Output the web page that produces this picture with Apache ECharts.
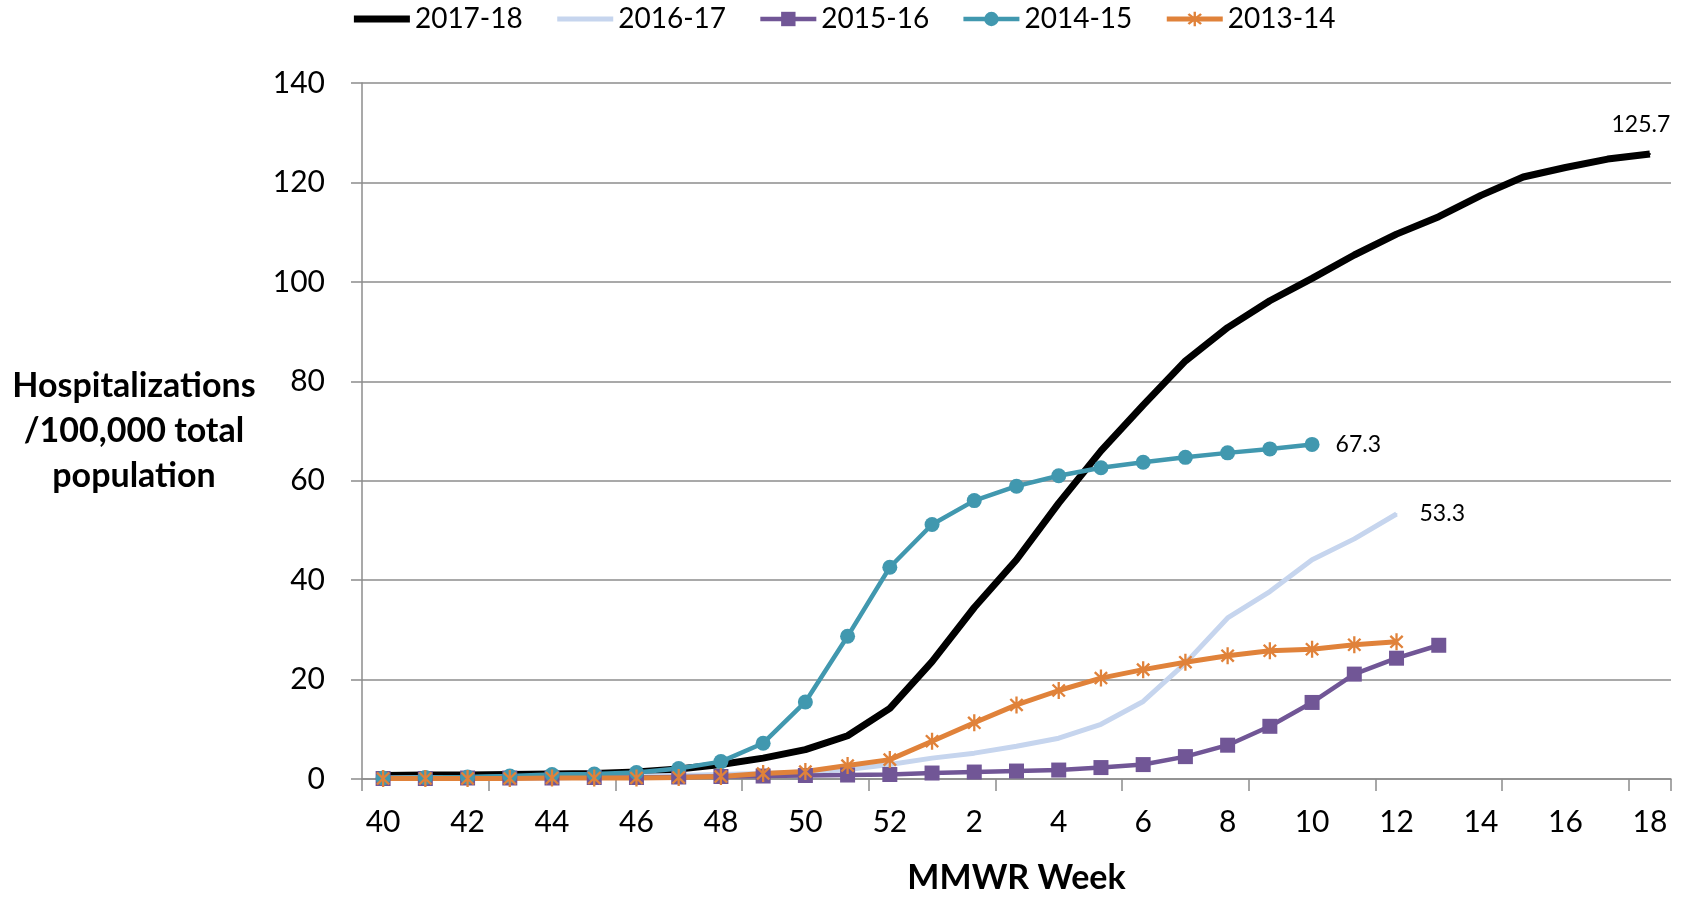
<!DOCTYPE html>
<html><head><meta charset="utf-8">
<script src="https://cdn.jsdelivr.net/npm/echarts@6/dist/echarts.min.js"></script>
<style>html,body{margin:0;padding:0;background:#fff}#c{width:1686px;height:900px}</style>
</head><body><div id="c"></div>
<script>
const weeks = ['40','41','42','43','44','45','46','47','48','49','50','51','52',
  '1','2','3','4','5','6','7','8','9','10','11','12','13','14','15','16','17','18'];
const yTicks = [0, 20, 40, 60, 80, 100, 120, 140];
const seriesNames = ['2017-18', '2016-17', '2015-16', '2014-15', '2013-14'];
const s1718 = [0.7,0.8,0.8,0.9,1.0,1.1,1.4,2.0,2.9,4.2,5.9,8.7,14.2,23.6,34.5,44.1,55.5,66.0,75.2,84.1,90.8,96.2,100.7,105.4,109.6,113.1,117.4,121.1,123.0,124.7,125.7];
const s1617 = [0.2,0.3,0.3,0.4,0.4,0.5,0.6,0.7,0.9,1.1,1.4,1.9,2.9,4.2,5.2,6.6,8.2,11.0,15.6,23.3,32.4,37.7,44.1,48.3,53.3];
const s1516 = [0.1,0.1,0.2,0.2,0.2,0.3,0.3,0.4,0.5,0.6,0.7,0.8,0.9,1.2,1.4,1.6,1.8,2.3,2.9,4.5,6.8,10.6,15.4,21.1,24.3,26.9];
const s1415 = [0.2,0.3,0.4,0.6,0.9,1.0,1.3,2.1,3.5,7.2,15.5,28.7,42.6,51.2,56.0,58.9,61.0,62.6,63.7,64.7,65.6,66.4,67.3];
const s1314 = [0.1,0.1,0.1,0.1,0.2,0.2,0.2,0.3,0.5,1.1,1.5,2.7,3.9,7.6,11.3,14.9,17.8,20.3,22.0,23.5,24.8,25.8,26.1,27.0,27.6];

const FONT = 'Lato';
const GRAY = '#8c8c8c';
const STAR = 'path://M-1.3,-9.9L1.3,-9.9L1.3,9.9L-1.3,9.9Z M-6.0,-7.9L7.9,6.0L6.0,7.9L-7.9,-6.0Z M6.0,-7.9L7.9,-6.0L-6.0,7.9L-7.9,6.0Z';
const labelBase = {show: true, fontSize: 23, fontFamily: FONT, color: '#000', formatter: '{c}'};

function withEndLabel(arr, label) {
  return arr.map((v, i) => i === arr.length - 1 ? {value: v, label: Object.assign({}, labelBase, label)} : v);
}

const chart = echarts.init(document.getElementById('c'));
chart.setOption({
  animation: false,
  backgroundColor: '#fff',
  textStyle: {fontFamily: FONT},
  legend: {
    top: 0, left: 'center', itemWidth: 56, itemHeight: 18, itemGap: 32,
    lineStyle: {width: 'inherit'},
    textStyle: {fontSize: 28, fontFamily: FONT, color: '#000'},
    data: [
      {name: seriesNames[0], itemStyle: {opacity: 0}},
      {name: seriesNames[1], itemStyle: {opacity: 0}},
      seriesNames[2], seriesNames[3], seriesNames[4]
    ]
  },
  grid: {left: 362, right: 15, top: 83, bottom: 121, containLabel: false, outerBoundsMode: 'none'},
  xAxis: {
    type: 'category', data: weeks, boundaryGap: true,
    axisLine: {show: true, lineStyle: {color: GRAY, width: 1.5}},
    axisTick: {show: true, interval: 2, length: 12, lineStyle: {color: GRAY, width: 1.5}},
    axisLabel: {interval: 1, fontSize: 30, fontFamily: FONT, color: '#000', margin: 28},
    splitLine: {show: false},
    name: 'MMWR Week', nameLocation: 'middle', nameGap: 82,
    nameTextStyle: {fontSize: 34, fontWeight: 'bold', fontFamily: FONT, color: '#000'}
  },
  yAxis: {
    type: 'value', min: yTicks[0], max: yTicks[yTicks.length - 1], interval: yTicks[1] - yTicks[0],
    axisLine: {show: true, lineStyle: {color: GRAY, width: 1.5}},
    axisTick: {show: true, length: 11, lineStyle: {color: GRAY, width: 1.5}},
    axisLabel: {fontSize: 30, fontFamily: FONT, color: '#000', margin: 37},
    splitLine: {show: true, lineStyle: {color: GRAY, width: 1.5}},
    name: 'Hospitalizations\n/100,000 total\npopulation', nameLocation: 'middle', nameGap: 228, nameRotate: 0,
    nameTextStyle: {fontSize: 34, fontWeight: 'bold', fontFamily: FONT, color: '#000', align: 'center', lineHeight: 45}
  },
  series: [
    {
      name: seriesNames[0], type: 'line', showAllSymbol: true, symbol: 'circle', symbolSize: 2,
      lineStyle: {color: '#000', width: 7}, itemStyle: {color: '#000'},
      data: withEndLabel(s1718, {position: 'top', distance: 17, offset: [-9, 0]})
    },
    {
      name: seriesNames[1], type: 'line', showAllSymbol: true, symbol: 'circle', symbolSize: 2,
      lineStyle: {color: '#c6d5ee', width: 5}, itemStyle: {color: '#c6d5ee'},
      data: withEndLabel(s1617, {position: 'right', distance: 22})
    },
    {
      name: seriesNames[2], type: 'line', showAllSymbol: true, symbol: 'rect', symbolSize: 15,
      lineStyle: {color: '#715696', width: 4.5}, itemStyle: {color: '#715696'},
      data: s1516
    },
    {
      name: seriesNames[3], type: 'line', showAllSymbol: true, symbol: 'circle', symbolSize: 15,
      lineStyle: {color: '#4198af', width: 4.5}, itemStyle: {color: '#4198af'},
      data: withEndLabel(s1415, {position: 'right', distance: 16})
    },
    {
      name: seriesNames[4], type: 'line', showAllSymbol: true, symbol: STAR, symbolSize: [14, 17],
      lineStyle: {color: '#e0823a', width: 5}, itemStyle: {color: '#e0823a'},
      data: s1314
    }
  ]
});
</script></body></html>
